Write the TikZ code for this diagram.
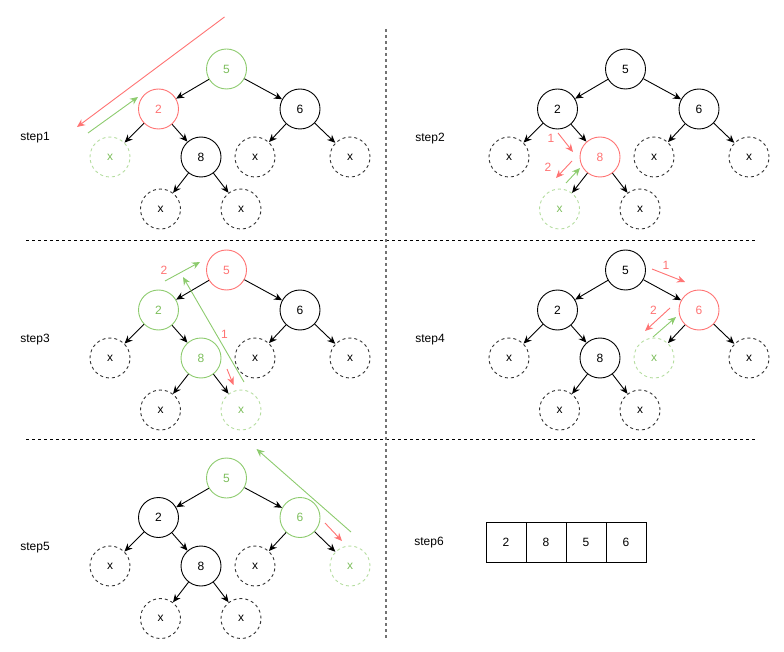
\documentclass[tikz,border=0pt]{standalone}
\usepackage{fontspec}
\setmainfont{Liberation Sans}
\usetikzlibrary{arrows.meta}
\definecolor{redc}{HTML}{FF7373}
\definecolor{greenc}{HTML}{8DCB6E}
\definecolor{greentxt}{HTML}{7DBE5C}
\definecolor{greenl}{HTML}{B5DDA0}
\definecolor{dk}{HTML}{333333}
\tikzset{
  nd/.style={circle, draw, minimum size=40pt, inner sep=0pt, line width=0.9pt, font=\fontsize{12}{14}\selectfont},
  nul/.style={nd, draw=dk, dash pattern=on 3pt off 3pt},
  hr/.style={draw=redc, text=redc},
  hg/.style={draw=greenc, text=greentxt},
  hgx/.style={draw=greenl, text=greentxt},
  ed/.style={-{Stealth[length=8pt,width=7pt]}, line width=0.9pt, black},
  ar/.style={-{Stealth[length=8pt,width=7pt]}, line width=0.9pt, redc},
  ag/.style={-{Stealth[length=8pt,width=7pt]}, line width=0.9pt, greenc},
  lbl/.style={text=redc, font=\fontsize{12}{14}\selectfont, inner sep=0pt},
  steplbl/.style={font=\fontsize{12}{14}\selectfont, inner sep=0pt},
  cell/.style={draw, minimum width=40pt, minimum height=40pt, inner sep=0pt, line width=0.9pt, font=\fontsize{12}{14}\selectfont},
  sep/.style={dash pattern=on 3pt off 3pt, line width=0.9pt}
}
\begin{document}
\begin{tikzpicture}[x=1pt,y=-1pt]
\useasboundingbox (0,0) rectangle (784,652);

% separators
\draw[sep] (26,240) -- (755,240);
\draw[sep] (26,439) -- (755,439);
\draw[sep, black!55, line width=1.3pt] (386,29) -- (386,639);

% step labels
\node[steplbl] (l1) at (35,138) {step1};
\node[steplbl] (l2) at (430,139) {step2};
\node[steplbl] (l3) at (35,340) {step3};
\node[steplbl] (l4) at (430,340) {step4};
\node[steplbl] (l5) at (35,548) {step5};
\node[steplbl] (l6) at (429,543) {step6};

% ---------- step1 ----------
\begin{scope}[shift={(226.5,69)}]
\node[nd,hg] (a5) at (0,0) {5};
\node[nd,hr] (a2) at (-68,40) {2};
\node[nd] (a6) at (73.5,40) {6};
\node[nul,hgx] (axa) at (-116.5,88) {x};
\node[nd] (a8) at (-25.5,88) {8};
\node[nul] (axb) at (28.5,88) {x};
\node[nul] (axc) at (123.5,88) {x};
\node[nul] (axd) at (-66,140) {x};
\node[nul] (axe) at (14.5,140) {x};
\end{scope}
\draw[ed] (a5) -- (a2); \draw[ed] (a5) -- (a6);
\draw[ed] (a2) -- (axa); \draw[ed] (a2) -- (a8);
\draw[ed] (a6) -- (axb); \draw[ed] (a6) -- (axc);
\draw[ed] (a8) -- (axd); \draw[ed] (a8) -- (axe);
\coordinate (r1s) at (224.5,17); \coordinate (r1e) at (77,127);
\draw[ar] (r1s) -- (r1e);
\coordinate (g1s) at (88,133); \coordinate (g1e) at (138,97);
\draw[ag] (g1s) -- (g1e);

% ---------- step2 ----------
\begin{scope}[shift={(625.5,69)}]
\node[nd] (b5) at (0,0) {5};
\node[nd] (b2) at (-68,40) {2};
\node[nd] (b6) at (73.5,40) {6};
\node[nul] (bxa) at (-116.5,88) {x};
\node[nd,hr] (b8) at (-25.5,88) {8};
\node[nul] (bxb) at (28.5,88) {x};
\node[nul] (bxc) at (123.5,88) {x};
\node[nul,hgx] (bxd) at (-66,140) {x};
\node[nul] (bxe) at (14.5,140) {x};
\end{scope}
\draw[ed] (b5) -- (b2); \draw[ed] (b5) -- (b6);
\draw[ed] (b2) -- (bxa); \draw[ed] (b2) -- (b8);
\draw[ed] (b6) -- (bxb); \draw[ed] (b6) -- (bxc);
\draw[ed] (b8) -- (bxd); \draw[ed] (b8) -- (bxe);
\node[lbl] (bl1) at (551,138) {1};
\node[lbl] (bl2) at (548,167) {2};
\coordinate (r2as) at (558,133); \coordinate (r2ae) at (573,152);
\draw[ar] (r2as) -- (r2ae);
\coordinate (r2bs) at (572,161); \coordinate (r2be) at (556,178);
\draw[ar] (r2bs) -- (r2be);
\coordinate (g2s) at (566,183); \coordinate (g2e) at (580,168);
\draw[ag] (g2s) -- (g2e);

% ---------- step3 ----------
\begin{scope}[shift={(226.5,270)}]
\node[nd,hr] (c5) at (0,0) {5};
\node[nd,hg] (c2) at (-68,40) {2};
\node[nd] (c6) at (73.5,40) {6};
\node[nul] (cxa) at (-116.5,88) {x};
\node[nd,hg] (c8) at (-25.5,88) {8};
\node[nul] (cxb) at (28.5,88) {x};
\node[nul] (cxc) at (123.5,88) {x};
\node[nul] (cxd) at (-66,140) {x};
\node[nul,hgx] (cxe) at (14.5,140) {x};
\end{scope}
\draw[ed] (c5) -- (c2); \draw[ed] (c5) -- (c6);
\draw[ed] (c2) -- (cxa); \draw[ed] (c2) -- (c8);
\draw[ed] (c6) -- (cxb); \draw[ed] (c6) -- (cxc);
\draw[ed] (c8) -- (cxd); \draw[ed] (c8) -- (cxe);
\node[lbl] (cl2) at (164,270) {2};
\node[lbl] (cl1) at (224.5,334) {1};
\coordinate (g3as) at (165,281); \coordinate (g3ae) at (200,262);
\draw[ag] (g3as) -- (g3ae);
\coordinate (g3bs) at (244,382); \coordinate (g3be) at (183,277);
\draw[ag] (g3bs) -- (g3be);
\coordinate (r3s) at (227,369); \coordinate (r3e) at (233.5,385);
\draw[ar] (r3s) -- (r3e);

% ---------- step4 ----------
\begin{scope}[shift={(625.5,270)}]
\node[nd] (d5) at (0,0) {5};
\node[nd] (d2) at (-68,40) {2};
\node[nd,hr] (d6) at (73.5,40) {6};
\node[nul] (dxa) at (-116.5,88) {x};
\node[nd] (d8) at (-25.5,88) {8};
\node[nul,hgx] (dxb) at (28.5,88) {x};
\node[nul] (dxc) at (123.5,88) {x};
\node[nul] (dxd) at (-66,140) {x};
\node[nul] (dxe) at (14.5,140) {x};
\end{scope}
\draw[ed] (d5) -- (d2); \draw[ed] (d5) -- (d6);
\draw[ed] (d2) -- (dxa); \draw[ed] (d2) -- (d8);
\draw[ed] (d6) -- (dxb); \draw[ed] (d6) -- (dxc);
\draw[ed] (d8) -- (dxd); \draw[ed] (d8) -- (dxe);
\node[lbl] (dl1) at (666,265) {1};
\node[lbl] (dl2) at (653.5,310) {2};
\coordinate (r4as) at (652,269); \coordinate (r4ae) at (685,282);
\draw[ar] (r4as) -- (r4ae);
\coordinate (r4bs) at (670,308); \coordinate (r4be) at (645,331);
\draw[ar] (r4bs) -- (r4be);
\coordinate (g4s) at (653,337); \coordinate (g4e) at (676,317);
\draw[ag] (g4s) -- (g4e);

% ---------- step5 ----------
\begin{scope}[shift={(226.5,478)}]
\node[nd,hg] (e5) at (0,0) {5};
\node[nd] (e2) at (-68,39.5) {2};
\node[nd,hg] (e6) at (73.5,39.5) {6};
\node[nul] (exa) at (-116.5,88) {x};
\node[nd] (e8) at (-25.5,88) {8};
\node[nul] (exb) at (28.5,88) {x};
\node[nul,hgx] (exc) at (123.5,88) {x};
\node[nul] (exd) at (-66,140.5) {x};
\node[nul] (exe) at (14.5,140.5) {x};
\end{scope}
\draw[ed] (e5) -- (e2); \draw[ed] (e5) -- (e6);
\draw[ed] (e2) -- (exa); \draw[ed] (e2) -- (e8);
\draw[ed] (e6) -- (exb); \draw[ed] (e6) -- (exc);
\draw[ed] (e8) -- (exd); \draw[ed] (e8) -- (exe);
\coordinate (g5s) at (351,532); \coordinate (g5e) at (256.5,449);
\draw[ag] (g5s) -- (g5e);
\coordinate (r5s) at (325,523); \coordinate (r5e) at (342,541);
\draw[ar] (r5s) -- (r5e);

% ---------- step6 ----------
\node[cell] (f1) at (506,542) {2};
\node[cell] (f2) at (546,542) {8};
\node[cell] (f3) at (586,542) {5};
\node[cell] (f4) at (626,542) {6};
\end{tikzpicture}
\end{document}
